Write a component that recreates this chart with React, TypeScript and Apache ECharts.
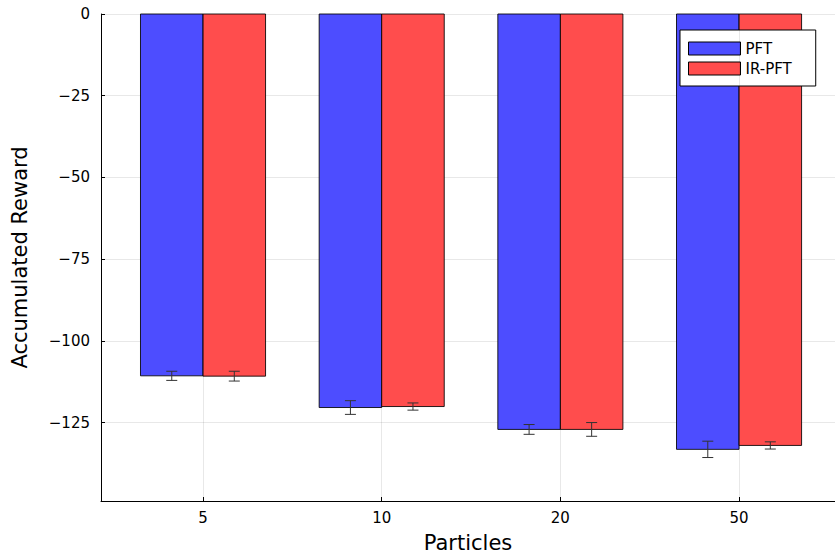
import React, { useEffect, useRef } from "react";
import * as echarts from "echarts";

const categories = ["5", "10", "20", "50"];
const pftValues = [-110.7, -120.4, -127.1, -133.2];
const pftErrors = [1.4, 2.1, 1.5, 2.5];
const irValues = [-110.8, -120.1, -127.1, -132.0];
const irErrors = [1.5, 1.1, 2.1, 1.1];
const yTicks = [0, -25, -50, -75, -100, -125];

const HALF = 0.35;

function makeRender(side: number) {
  return (params: any, api: any) => {
    const x = api.value(0);
    const v = api.value(1);
    const e = api.value(2);
    const xl = side < 0 ? x - HALF : x;
    const xr = side < 0 ? x : x + HALF;
    const p0 = api.coord([xl, 0]);
    const p1 = api.coord([xr, v]);
    const xc = api.coord([(xl + xr) / 2, v]);
    const pt = api.coord([(xl + xr) / 2, v + e]);
    const pb = api.coord([(xl + xr) / 2, v - e]);
    const cap = 5.5;
    const es = { stroke: "#333", lineWidth: 1 };
    return {
      type: "group",
      children: [
        {
          type: "rect",
          shape: { x: p0[0], y: p0[1], width: p1[0] - p0[0], height: p1[1] - p0[1] },
          style: { fill: api.visual("color"), stroke: "rgba(0,0,0,0.85)", lineWidth: 1 },
        },
        { type: "line", shape: { x1: xc[0], y1: pt[1], x2: xc[0], y2: pb[1] }, style: es },
        { type: "line", shape: { x1: xc[0] - cap, y1: pt[1], x2: xc[0] + cap, y2: pt[1] }, style: es },
        { type: "line", shape: { x1: xc[0] - cap, y1: pb[1], x2: xc[0] + cap, y2: pb[1] }, style: es },
      ],
    };
  };
}

export default function App() {
  const ref = useRef<HTMLDivElement>(null);
  useEffect(() => {
    if (!ref.current) return;
    const chart = echarts.init(ref.current, null, { renderer: "svg" });
    const font = "DejaVu Sans";
    const pos = categories.map((_, i) => i + 1);
    chart.setOption({
      animation: false,
      backgroundColor: "#fff",
      textStyle: { fontFamily: font },
      grid: { left: 101, top: 14, width: 734, height: 490, containLabel: false },
      legend: {
        orient: "vertical",
        left: 680,
        top: 30,
        padding: [11, 24, 10, 8],
        itemWidth: 52,
        itemHeight: 13,
        itemGap: 5,
        borderColor: "#000",
        borderWidth: 1,
        backgroundColor: "#fff",
        borderRadius: 0,
        textStyle: { fontFamily: font, fontSize: 15, color: "#000", padding: [0, 0, 0, 0] },
        data: [
          { name: "PFT", icon: "rect", itemStyle: { color: "rgb(77,77,255)", borderColor: "#000", borderWidth: 1 } },
          { name: "IR-PFT", icon: "rect", itemStyle: { color: "rgb(255,77,77)", borderColor: "#000", borderWidth: 1 } },
        ],
      },
      xAxis: {
        type: "value",
        min: 0.429,
        max: 4.537,
        name: "Particles",
        nameLocation: "middle",
        nameGap: 31,
        nameTextStyle: { fontSize: 21, color: "#000", fontFamily: font },
        axisLine: { show: true, onZero: false, lineStyle: { color: "#000", width: 1 } },
        axisTick: { show: true, inside: true, length: 4, customValues: pos, lineStyle: { color: "#000" } },
        axisLabel: {
          customValues: pos,
          formatter: (v: number) => categories[Math.round(v) - 1] ?? "",
          fontSize: 15,
          color: "#000",
          margin: 9,
          fontFamily: font,
        },
        splitLine: { show: false },
      },
      yAxis: {
        type: "value",
        min: -149,
        max: 0,
        minInterval: 25,
        maxInterval: 25,
        name: "Accumulated Reward",
        nameLocation: "middle",
        nameGap: 71,
        nameTextStyle: { fontSize: 21, color: "#000", fontFamily: font },
        axisLine: { show: true, onZero: false, lineStyle: { color: "#000", width: 1 } },
        axisTick: { show: true, inside: true, length: 4, lineStyle: { color: "#000" } },
        axisLabel: {
          formatter: (v: number) =>
            yTicks.includes(v) ? (v < 0 ? "\u2212" + Math.abs(v) : String(v)) : "",
          fontSize: 15,
          color: "#000",
          margin: 11,
          fontFamily: font,
        },
        splitLine: { show: true, lineStyle: { color: "rgba(0,0,0,0.09)", width: 1 } },
      },
      series: [
        {
          name: "grid",
          type: "custom",
          data: [],
          renderItem: () => ({ type: "group", children: [] }),
          markLine: {
            silent: true,
            symbol: ["none", "none"],
            label: { show: false },
            lineStyle: { color: "rgba(0,0,0,0.09)", width: 1, type: "solid" },
            data: pos.map((p) => ({ xAxis: p })),
          },
          z: 0,
        },
        {
          name: "PFT",
          type: "custom",
          itemStyle: { color: "rgb(77,77,255)", borderColor: "#000", borderWidth: 1 },
          encode: { x: 0, y: 1 },
          data: pftValues.map((v, i) => [pos[i], v, pftErrors[i]]),
          renderItem: makeRender(-1),
          z: 2,
        },
        {
          name: "IR-PFT",
          type: "custom",
          itemStyle: { color: "rgb(255,77,77)", borderColor: "#000", borderWidth: 1 },
          encode: { x: 0, y: 1 },
          data: irValues.map((v, i) => [pos[i], v, irErrors[i]]),
          renderItem: makeRender(1),
          z: 2,
        },
      ],
    });
    return () => chart.dispose();
  }, []);
  return (
    <div
      ref={ref}
      style={{ position: "fixed", left: 0, top: 0, width: 835, height: 558 }}
    />
  );
}
